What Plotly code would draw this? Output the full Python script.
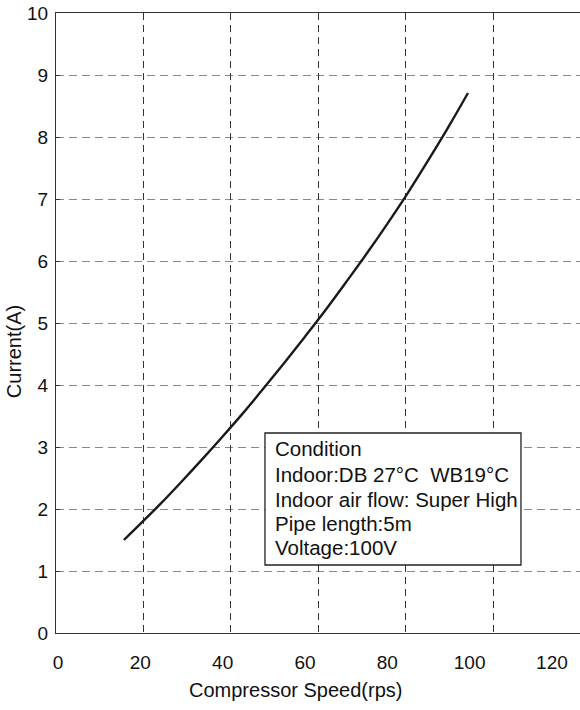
import plotly.graph_objects as go

# ---- data ----
speed_rps = [16, 20, 25, 30, 35, 40, 45, 50, 55, 60, 65, 70, 75, 80, 85, 90, 95, 99.6]
current_a = [1.50, 1.76, 2.09, 2.44, 2.80, 3.17, 3.55, 3.95, 4.36, 4.78, 5.21, 5.66,
             6.12, 6.60, 7.10, 7.63, 8.18, 8.71]
x_ticks = [0, 20, 40, 60, 80, 100, 120]
y_ticks = [0, 1, 2, 3, 4, 5, 6, 7, 8, 9, 10]
condition_lines = [
    "Condition",
    "Indoor:DB 27°C\u00a0\u00a0WB19°C",
    "Indoor air flow: Super High",
    "Pipe length:5m",
    "Voltage:100V",
]
x_title = "Compressor Speed(rps)"
y_title = "Current(A)"

FONT = "Liberation Sans, Arial, sans-serif"
AX = "#333333"

fig = go.Figure()
fig.add_trace(go.Scatter(x=speed_rps, y=current_a, mode="lines",
                         line=dict(color="#1a1a1a", width=2.4, shape="spline"),
                         showlegend=False, hoverinfo="skip"))

fig.update_layout(
    width=582, height=710,
    margin=dict(l=56, r=0, t=13, b=77),
    paper_bgcolor="white", plot_bgcolor="white",
    font=dict(family=FONT, size=19, color="#111111"),
    xaxis=dict(range=[-0.49, 127.3], tickvals=x_ticks, showgrid=False, zeroline=False,
               showline=True, linecolor=AX, linewidth=1.3, mirror=True, ticks="",
               ticklabelstandoff=12, tickfont=dict(size=19)),
    xaxis2=dict(overlaying="x", anchor="y", range=[0.07, 120.2], dtick=20, tick0=0,
                showgrid=True, gridcolor="#333333", gridwidth=1.1, griddash="7px,5px",
                showticklabels=False, showline=False, zeroline=False, ticks=""),
    yaxis=dict(range=[0, 10], tickvals=y_ticks, showgrid=True, gridcolor="#888888",
               gridwidth=1.3, griddash="8px,5px", zeroline=False, showline=True,
               linecolor=AX, linewidth=1.3, ticks="inside", ticklen=4, tickcolor=AX,
               ticklabelstandoff=3, tickfont=dict(size=19)),
)
# make xaxis2 exist
fig.add_trace(go.Scatter(x=[], y=[], xaxis="x2", yaxis="y", showlegend=False))

# condition box
fig.add_shape(type="rect", xref="paper", yref="paper", x0=0.3973, x1=0.884, y0=0.1097, y1=0.3226,
              line=dict(color="#222222", width=1.3), fillcolor="white", layer="above")
line_y = [0.2968, 0.2560, 0.2161, 0.1774, 0.1376]
for txt, yy in zip(condition_lines, line_y):
    fig.add_annotation(text=txt, xref="paper", yref="paper", x=0.4125, y=yy,
                       xanchor="left", yanchor="middle", showarrow=False,
                       font=dict(size=20.5, family=FONT, color="#111111"))

fig.add_annotation(text=x_title, xref="paper", yref="paper", x=0.4544, y=-0.092,
                   xanchor="center", yanchor="middle", showarrow=False,
                   font=dict(size=20, family=FONT, color="#111111"))
fig.add_annotation(text=y_title, xref="paper", yref="paper", x=-0.0798, y=0.453,
                   xanchor="center", yanchor="middle", showarrow=False, textangle=-90,
                   font=dict(size=20, family=FONT, color="#111111"))

fig.write_html("out.html", config={"displayModeBar": False},
               post_script="document.body.style.margin='0';document.body.style.overflow='hidden';")
